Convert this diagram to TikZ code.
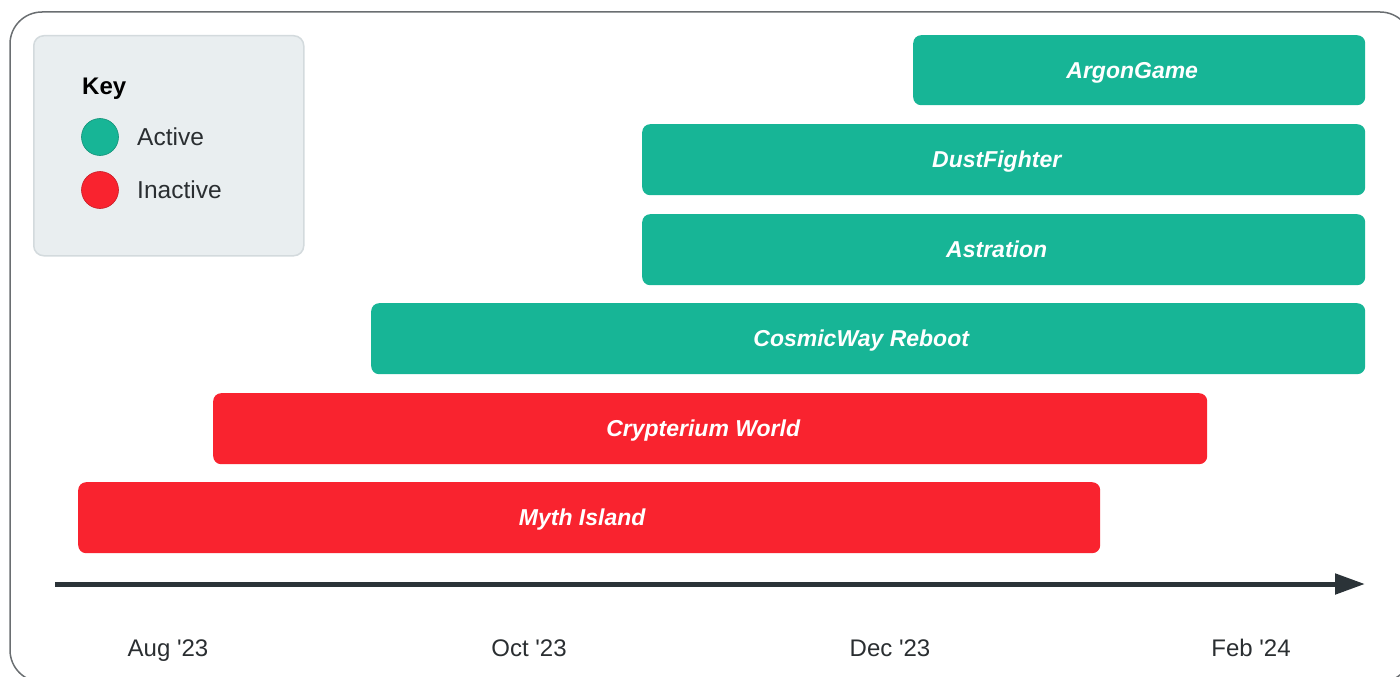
\documentclass[tikz,border=0pt]{standalone}
\usepackage{fontspec}
\setmainfont{Liberation Sans}
\usetikzlibrary{arrows.meta}
\definecolor{activec}{HTML}{17B596}
\definecolor{inactivec}{HTML}{F9232F}
\definecolor{keyfill}{HTML}{E9EEF0}
\definecolor{keydraw}{HTML}{D3DADD}
\definecolor{axisc}{HTML}{2B3338}
\definecolor{framec}{HTML}{6A6E71}
\definecolor{txtc}{HTML}{2A2E31}
\tikzset{
  bar/.style={rounded corners=8pt, anchor=north west, minimum height=71pt, inner sep=0pt,
    text=white, text height=16.5pt, text depth=0pt,
    font=\fontsize{23}{26}\selectfont\bfseries\itshape},
  activebar/.style={bar, fill=activec},
  inactivebar/.style={bar, fill=inactivec},
  keydot/.style={circle, minimum size=37pt, inner sep=0pt, line width=0.6pt},
  keytext/.style={anchor=west, inner sep=0pt, text=txtc, text height=17.5pt, text depth=0pt,
    font=\fontsize{24.5}{28}\selectfont},
  datelabel/.style={inner sep=0pt, text=txtc, text height=17pt, text depth=0pt,
    font=\fontsize{24}{28}\selectfont},
}
\newcommand{\barlabel}[1]{\hspace*{-14pt}#1}
\begin{document}
\begin{tikzpicture}[x=1pt, y=-1pt]
\useasboundingbox (0,0) rectangle (1400,677);
\clip (0,0) rectangle (1400,677);
% outer frame
\draw[framec, line width=1.5pt, rounded corners=32pt] (10,12) rectangle (1412,682);
% key
\node[draw=keydraw, fill=keyfill, line width=1.5pt, rounded corners=10pt, anchor=north west,
  minimum width=270pt, minimum height=220pt, inner sep=0pt] (key) at (33,35) {};
\node[keytext, font=\fontsize{24}{28}\selectfont\bfseries, text=black] (keytitle) at (82,86) {Key};
\node[keydot, fill=activec, draw=activec!80!black] (dotA) at (100,137) {};
\node[keytext] (txtA) at (137,137) {Active};
\node[keydot, fill=inactivec, draw=inactivec!80!black] (dotI) at (100,190) {};
\node[keytext] (txtI) at (137,190) {Inactive};
% bars
\node[activebar, minimum width=452pt, minimum height=70pt] (argon) at (913,35) {\barlabel{ArgonGame}};
\node[activebar, minimum width=723pt] (dust) at (642,124) {\barlabel{DustFighter}};
\node[activebar, minimum width=723pt] (astr) at (642,214) {\barlabel{Astration}};
\node[activebar, minimum width=994pt] (cosmic) at (371,303) {\barlabel{CosmicWay Reboot}};
\node[inactivebar, minimum width=994pt] (crypt) at (213,393) {\barlabel{Crypterium World}};
\node[inactivebar, minimum width=1022pt] (myth) at (78,482) {\barlabel{Myth Island}};
% axis
\coordinate (axs) at (55,584);
\coordinate (axe) at (1365,584);
\draw[axisc, line width=5pt, -{Triangle[length=30pt, width=20pt]}] (axs) -- (axe);
\node[datelabel] (aug) at (168,648) {Aug \textquotesingle23};
\node[datelabel] (oct) at (529,648) {Oct \textquotesingle23};
\node[datelabel] (dec) at (890,648) {Dec \textquotesingle23};
\node[datelabel] (feb) at (1251,648) {Feb \textquotesingle24};
\end{tikzpicture}
\end{document}
